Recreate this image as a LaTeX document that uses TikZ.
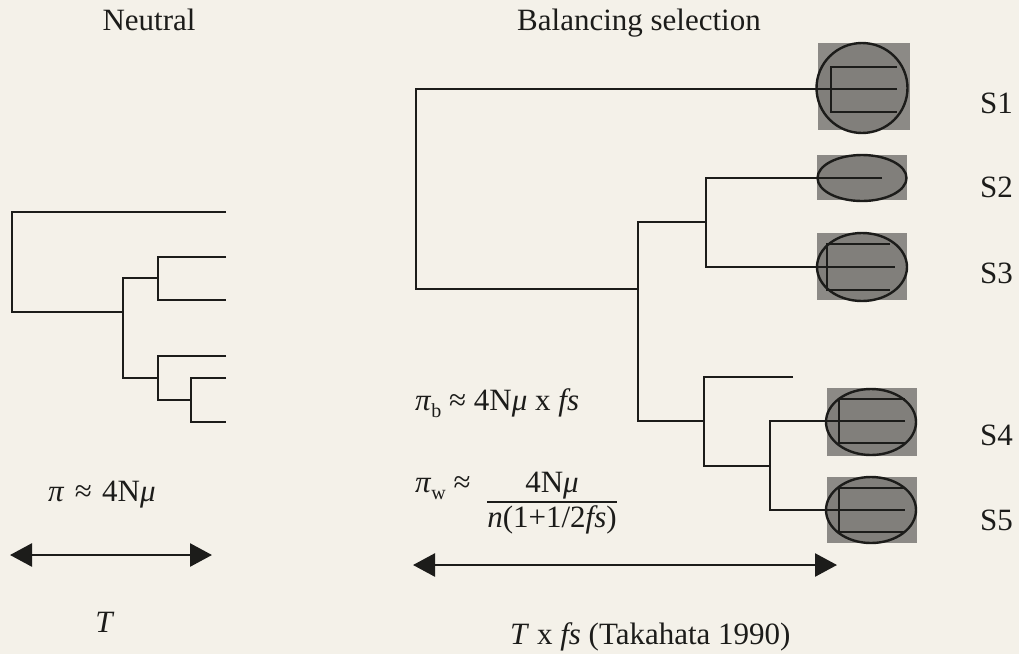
\documentclass[tikz,border=0pt]{standalone}
\usepackage{fontspec}
\setmainfont{Liberation Serif}
\usetikzlibrary{arrows.meta,shapes.geometric}
\definecolor{paper}{RGB}{244,241,233}
\definecolor{boxgray}{RGB}{140,138,134}
\definecolor{ink}{RGB}{28,28,26}
\newcommand{\sub}[1]{\raisebox{-7pt}{\fontsize{20}{20}\selectfont #1}}
\begin{document}
\begin{tikzpicture}[x=1pt,y=-1pt,
  txt/.style={inner sep=0pt, text=ink, font=\fontsize{31}{37}\selectfont},
  br/.style={draw=ink, line width=2.3pt},
  greybox/.style={rectangle, fill=boxgray, draw=none, inner sep=0pt},
  cell/.style={ellipse, draw=ink, line width=2.4pt, fill=boxgray!92!black, inner sep=0pt},
  dbl/.style={draw=ink, line width=2.6pt, {Triangle[length=22pt,width=23pt]}-{Triangle[length=22pt,width=23pt]}}
]
\fill[paper] (0,0) rectangle (1019,654);
\useasboundingbox (0,0) rectangle (1019,654);

% titles
\node[txt, anchor=base] (neutral) at (149,30) {Neutral};
\node[txt, anchor=base] (balancing) at (639,30) {Balancing selection};

% ---------- Neutral tree ----------
\coordinate (nL1) at (226,212);
\coordinate (nL2) at (226,257);
\coordinate (nL3) at (226,300);
\coordinate (nL4) at (226,356);
\coordinate (nL5) at (226,378);
\coordinate (nL6) at (226,422);
\draw[br] (nL1) -| (12,312) -- (123,312);
\draw[br] (158,278) -| (123,378) -- (158,378);
\draw[br] (nL2) -| (158,300) -- (nL3);
\draw[br] (nL4) -| (158,400) -- (191,400);
\draw[br] (nL5) -| (191,422) -- (nL6);

% ---------- grey boxes and cells ----------
\node[greybox, minimum width=92pt, minimum height=87pt] (B1) at (864,86.5) {};
\node[greybox, minimum width=90pt, minimum height=45pt] (B2) at (862,177.5) {};
\node[greybox, minimum width=90pt, minimum height=67pt] (B3) at (862,266.5) {};
\node[greybox, minimum width=90pt, minimum height=68pt] (B4) at (872,422) {};
\node[greybox, minimum width=90pt, minimum height=66pt] (B5) at (872,510) {};

\node[cell, minimum width=91pt, minimum height=90pt] (E1) at (862,88) {};
\node[cell, minimum width=89pt, minimum height=46pt] (E2) at (862,178) {};
\node[cell, minimum width=90pt, minimum height=68pt] (E3) at (862,267) {};
\node[cell, minimum width=90pt, minimum height=66pt] (E4) at (871,422) {};
\node[cell, minimum width=90pt, minimum height=66pt] (E5) at (871,510) {};

% ---------- Balancing tree ----------
\coordinate (s1) at (897,89);
\coordinate (s2) at (882,178);
\coordinate (s3) at (895,267);
\coordinate (s4) at (905,421);
\coordinate (s5) at (905,510);
\coordinate (sx) at (793,377);
\draw[br] (s1) -| (416,289) -- (638,289);
\draw[br] (706,222) -| (638,421) -- (704,421);
\draw[br] (s2) -| (706,267) -- (s3);
\draw[br] (sx) -| (704,466) -- (770,466);
\draw[br] (s4) -| (770,510) -- (s5);
% inner trees
\draw[br] (897,67) -| (831,112) -- (897,112);
\draw[br] (890,244) -| (827,290) -- (890,290);
\draw[br] (905,399) -| (839,443) -- (905,443);
\draw[br] (905,488) -| (839,532) -- (905,532);

% leaf labels
\node[txt, anchor=west] (S1) at (980,103) {S1};
\node[txt, anchor=west] (S2) at (980,187) {S2};
\node[txt, anchor=west] (S3) at (980,273) {S3};
\node[txt, anchor=west] (S4) at (980,435) {S4};
\node[txt, anchor=west] (S5) at (980,520) {S5};

% ---------- formulas ----------
\node[txt, anchor=base west] (pin) at (48,501) {\textit{π}\,\,≈\,\,4N\textit{μ}};
\node[txt, anchor=base west] (pib) at (415,410) {\textit{π}\sub{b} ≈ 4N\textit{μ} x \textit{fs}};
\node[txt, anchor=base west] (piw) at (415,492) {\textit{π}\sub{w} ≈};
\node[txt, anchor=base] (num) at (552,492) {4N\textit{μ}};
\node[txt, anchor=base] (den) at (552,527) {\textit{n}(1+1/2\textit{fs})};
\draw[draw=ink, line width=1.8pt] ([yshift=3pt]den.north west) -- ([yshift=3pt]den.north east);

% ---------- time arrows ----------
\coordinate (a1) at (10,555);
\coordinate (a2) at (212,555);
\draw[dbl] (a1) -- (a2);
\coordinate (b1) at (413,565);
\coordinate (b2) at (837,565);
\draw[dbl] (b1) -- (b2);
\node[txt, anchor=base] (T) at (105,632) {\textit{T}};
\node[txt, anchor=base west] (Tfs) at (510,644) {\textit{T} x \textit{fs} (Takahata 1990)};
\end{tikzpicture}
\end{document}
